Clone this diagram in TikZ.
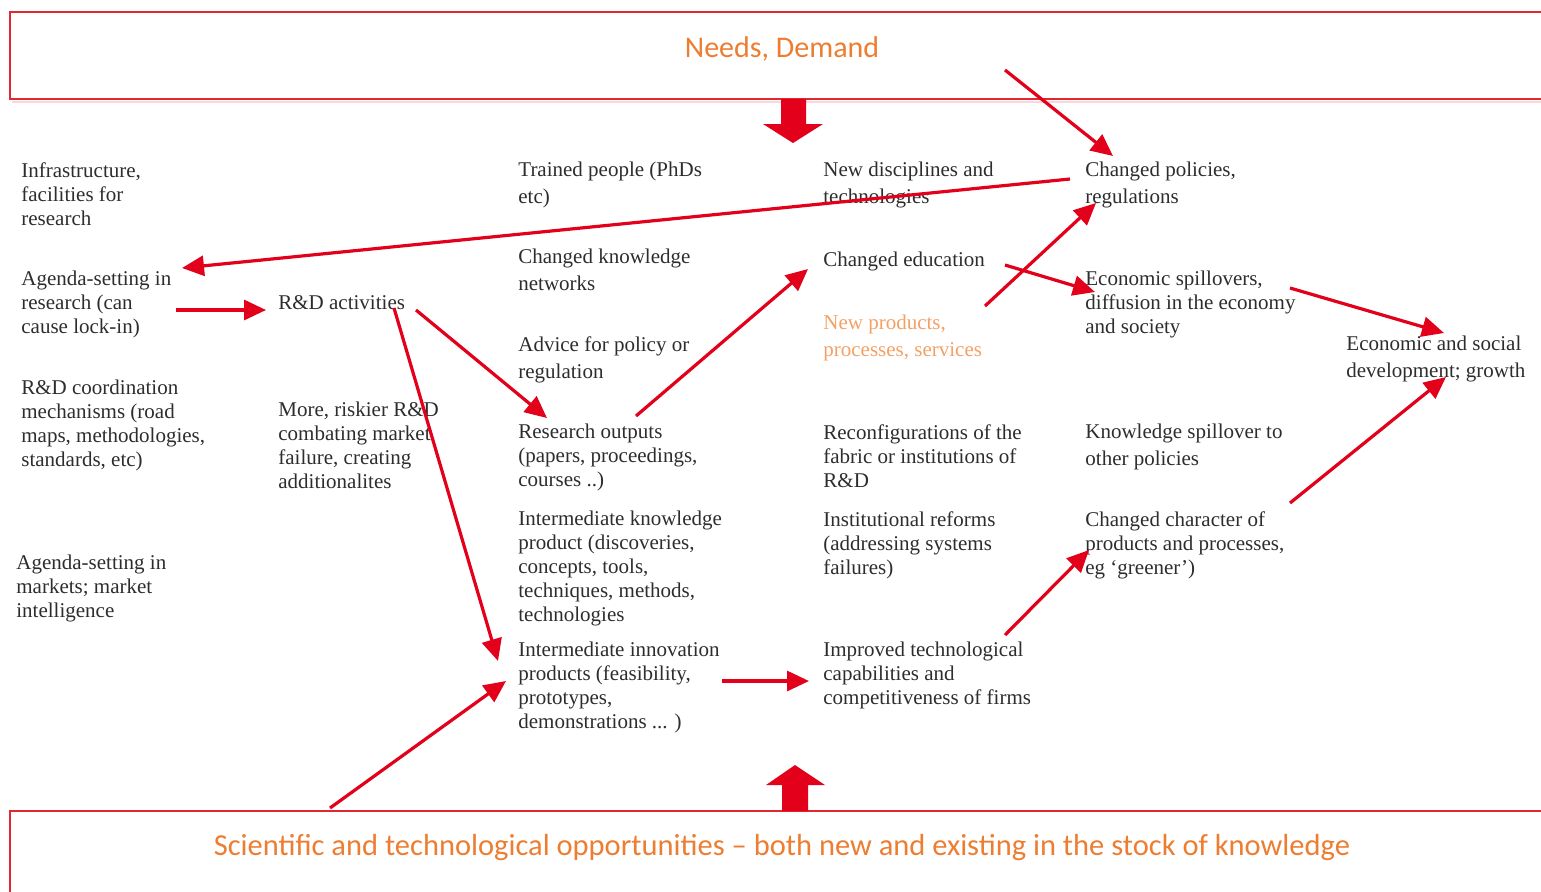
\documentclass[tikz,border=0pt]{standalone}
\usepackage{fontspec}
\setmainfont{Liberation Serif}
\newfontfamily\titlefont{Carlito}
\usetikzlibrary{arrows.meta}
\definecolor{arrred}{RGB}{226,0,26}
\definecolor{boxred}{RGB}{225,40,50}
\definecolor{txt}{RGB}{45,45,45}
\definecolor{titleorange}{RGB}{237,125,49}
\definecolor{lightorange}{RGB}{244,160,100}
\begin{document}
\begin{tikzpicture}[x=0.5pt,y=-0.5pt,
  lbl/.style={anchor=north west, inner sep=0pt, align=left, text=txt, font=\fontsize{10.5}{12}\selectfont},
  lblw/.style={lbl, font=\fontsize{10.5}{13.5}\selectfont},
  arr/.style={draw=arrred, line width=1.6pt, -{Triangle[length=11pt,width=10pt]}},
  frame/.style={draw=boxred, line width=1pt},
  title/.style={inner sep=0pt, text=titleorange, font=\titlefont\fontsize{15}{18}\selectfont}
]
\useasboundingbox (0,0) rectangle (1541,891);
% frames
\draw[boxred!18, line width=1.2pt] (12,102) -- (1560,102);
\draw[frame] (10,12) rectangle (1600,99);
\draw[frame] (10,811) rectangle (1600,950);
\node[title] (needs) at (782,49) {Needs, Demand};
\node[title, font=\titlefont\fontsize{15.25}{18}\selectfont] (opps) at (782,848) {Scientific and technological opportunities – both new and existing in the stock of knowledge};
% block arrows
\fill[arrred] (781,99) -- (806,99) -- (806,124) -- (823,124) -- (793,143) -- (763,124) -- (781,124) -- cycle;
\fill[arrred] (782,811) -- (808,811) -- (808,785) -- (825,785) -- (795,765) -- (766,785) -- (782,785) -- cycle;
% column 1
\node[lbl] (infra) at (21,162) {Infrastructure,\\facilities for\\research};
\node[lbl] (agr) at (21,271) {Agenda-setting in\\research (can\\cause lock-in)};
\node[lbl] (coord) at (21,380) {R\&D coordination\\mechanisms (road\\maps, methodologies,\\standards, etc)};
\node[lbl] (agm) at (16,555) {Agenda-setting in\\markets; market\\intelligence};
% column 2
\node[lbl] (rd) at (278,295) {R\&D activities};
\node[lbl] (risk) at (278,402) {More, riskier R\&D\\combating market\\failure, creating\\additionalites};
% column 3
\node[lblw] (trained) at (518,162) {Trained people (PhDs\\etc)};
\node[lblw] (knet) at (518,249) {Changed knowledge\\networks};
\node[lblw] (advice) at (518,336) {Advice for policy or\\regulation};
\node[lbl] (resout) at (518,424) {Research outputs\\(papers, proceedings,\\courses ..)};
\node[lbl] (ikp) at (518,511) {Intermediate knowledge\\product (discoveries,\\concepts, tools,\\techniques, methods,\\technologies};
\node[lbl] (iip) at (518,642) {Intermediate innovation\\products (feasibility,\\prototypes,\\demonstrations ... )};
% column 4
\node[lblw] (newdisc) at (823,162) {New disciplines and\\technologies};
\node[lbl] (chedu) at (823,252) {Changed education};
\node[lblw, text=lightorange] (newprod) at (823,315) {New products,\\processes, services};
\node[lbl] (reconf) at (823,424) {Reconfigurations of the\\fabric or institutions of\\R\&D};
\node[lbl] (inst) at (823,511) {Institutional reforms\\(addressing systems\\failures)};
\node[lbl] (impr) at (823,642) {Improved technological\\capabilities and\\competitiveness of firms};
% column 5
\node[lblw] (chpol) at (1085,162) {Changed policies,\\regulations};
\node[lbl] (econsp) at (1085,271) {Economic spillovers,\\diffusion in the economy\\and society};
\node[lblw] (ksp) at (1085,424) {Knowledge spillover to\\other policies};
\node[lbl] (chchar) at (1085,511) {Changed character of\\products and processes,\\eg ‘greener’)};
% column 6
\node[lblw] (esd) at (1346,336) {Economic and social\\development; growth};
% connector end points
\coordinate (needsOut) at (1005,70);
\coordinate (chpolIn) at (1113,156);
\coordinate (chpolOut) at (1070,179);
\coordinate (agrIn) at (182,268);
\coordinate (agrOut) at (176,310);
\coordinate (rdIn) at (266,310);
\coordinate (rdOutA) at (416,310);
\coordinate (resoutIn) at (547,418);
\coordinate (rdOutB) at (394,308);
\coordinate (iipInA) at (498,661);
\coordinate (resoutOut) at (636,416);
\coordinate (cheduIn) at (808,269);
\coordinate (newprodOut) at (985,306);
\coordinate (chpolInB) at (1096,203);
\coordinate (cheduOut) at (1005,265);
\coordinate (econspIn) at (1095,292);
\coordinate (econspOut) at (1290,288);
\coordinate (esdInA) at (1444,333);
\coordinate (chcharOut) at (1290,503);
\coordinate (esdInB) at (1446,377);
\coordinate (iipOut) at (722,681);
\coordinate (imprIn) at (809,681);
\coordinate (imprOut) at (1005,635);
\coordinate (chcharIn) at (1089,550);
\coordinate (oppsOut) at (330,808);
\coordinate (iipInB) at (506,681);
% connectors
\draw[arr] (needsOut) -- (chpolIn);
\draw[arr] (chpolOut) -- (agrIn);
\draw[arr] (agrOut) -- (rdIn);
\draw[arr] (rdOutA) -- (resoutIn);
\draw[arr] (rdOutB) -- (iipInA);
\draw[arr] (resoutOut) -- (cheduIn);
\draw[arr] (newprodOut) -- (chpolInB);
\draw[arr] (cheduOut) -- (econspIn);
\draw[arr] (econspOut) -- (esdInA);
\draw[arr] (chcharOut) -- (esdInB);
\draw[arr] (iipOut) -- (imprIn);
\draw[arr] (imprOut) -- (chcharIn);
\draw[arr] (oppsOut) -- (iipInB);
\end{tikzpicture}
\end{document}
